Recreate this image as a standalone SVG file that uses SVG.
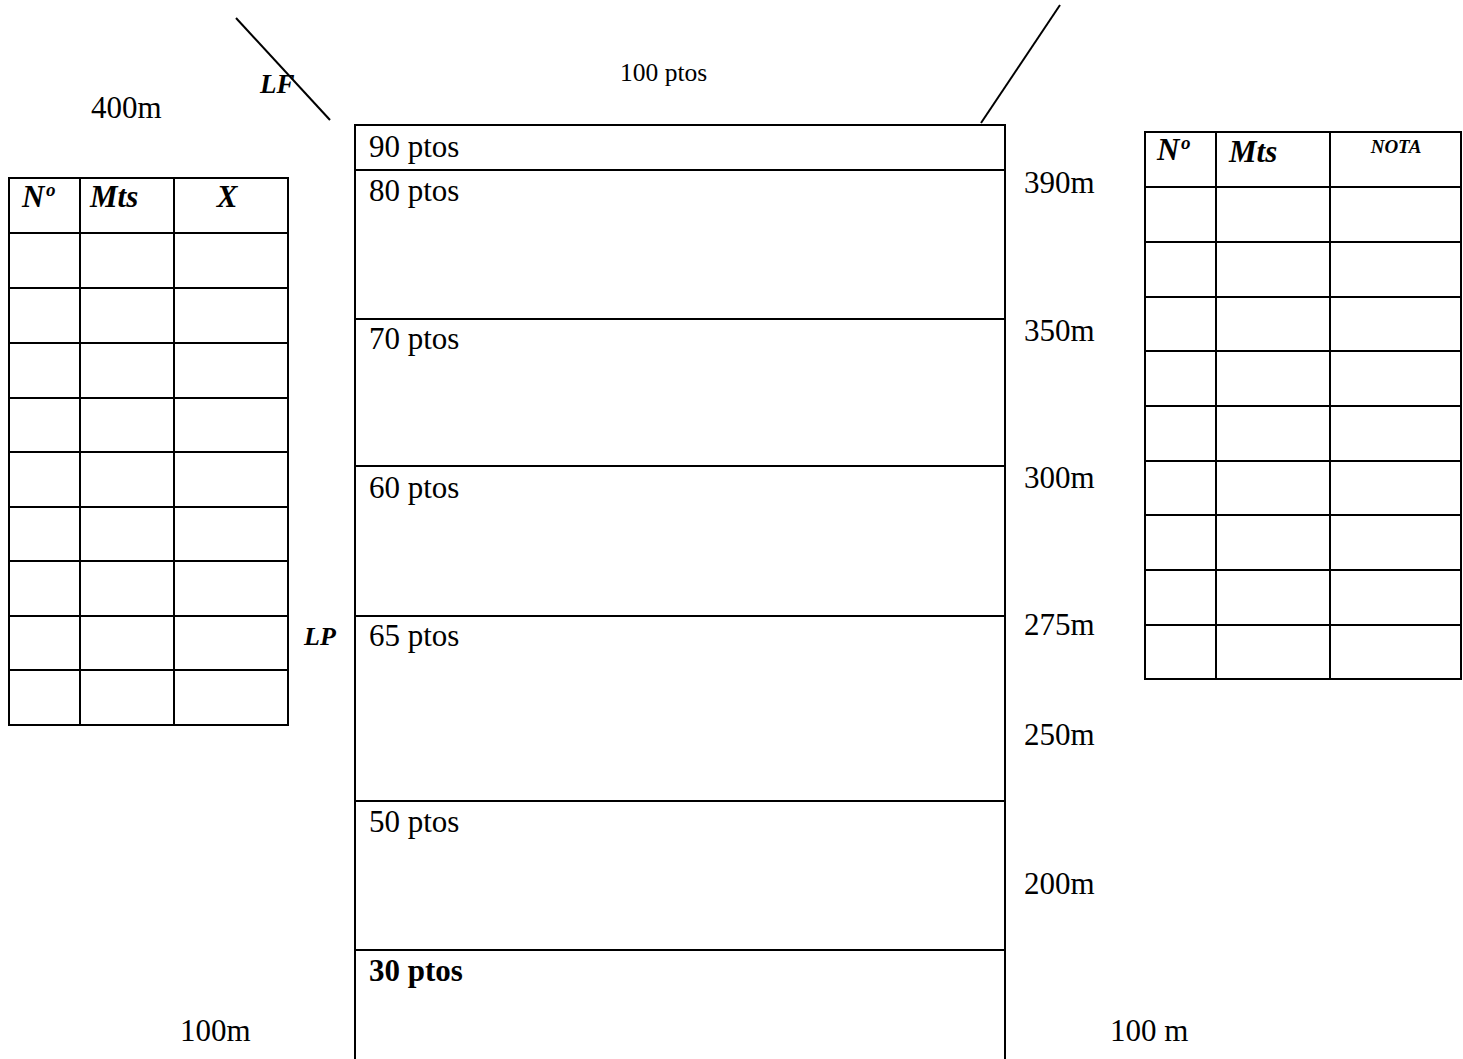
<svg xmlns="http://www.w3.org/2000/svg" width="1463" height="1059" viewBox="0 0 1463 1059">
<style>
.ln{stroke:#000;stroke-width:2;fill:none}
.t{font-family:"Liberation Serif","Times New Roman",serif;font-size:31px;fill:#000}
.bi{font-family:"Liberation Serif","Times New Roman",serif;font-weight:bold;font-style:italic;fill:#000}
</style>
<rect width="1463" height="1059" fill="#fff"/>
<g id="connectors">
<line class="ln" x1="236" y1="18" x2="330" y2="120"/>
<line class="ln" x1="1060" y1="5" x2="981" y2="123"/>
</g>
<g id="main-field">
<path class="ln" d="M355,1059 V125 H1005 V1059"/>
<line class="ln" x1="355" y1="170" x2="1005" y2="170"/>
<line class="ln" x1="355" y1="319" x2="1005" y2="319"/>
<line class="ln" x1="355" y1="466" x2="1005" y2="466"/>
<line class="ln" x1="355" y1="616" x2="1005" y2="616"/>
<line class="ln" x1="355" y1="801" x2="1005" y2="801"/>
<line class="ln" x1="355" y1="950" x2="1005" y2="950"/>
<text class="t" x="369" y="157">90 ptos</text>
<text class="t" x="369" y="201">80 ptos</text>
<text class="t" x="369" y="349">70 ptos</text>
<text class="t" x="369" y="498">60 ptos</text>
<text class="t" x="369" y="646">65 ptos</text>
<text class="t" x="369" y="832">50 ptos</text>
<text class="t" x="369" y="981" style="font-weight:bold">30 ptos</text>
</g>
<g id="labels">
<text class="t" x="91" y="118">400m</text>
<text class="t" x="620" y="81" style="font-size:25.5px">100 ptos</text>
<text class="bi" x="260" y="93" style="font-size:27px">LF</text>
<text class="bi" x="304" y="645" style="font-size:26px">LP</text>
<text class="t" x="1024" y="193">390m</text>
<text class="t" x="1024" y="341">350m</text>
<text class="t" x="1024" y="488">300m</text>
<text class="t" x="1024" y="635">275m</text>
<text class="t" x="1024" y="745">250m</text>
<text class="t" x="1024" y="894">200m</text>
<text class="t" x="180" y="1041">100m</text>
<text class="t" x="1110" y="1041">100 m</text>
</g>
<g id="left-table">
<rect class="ln" x="9" y="178" width="279" height="547"/>
<line class="ln" x1="80" y1="178" x2="80" y2="725"/>
<line class="ln" x1="174" y1="178" x2="174" y2="725"/>
<path class="ln" d="M9,233 H288 M9,288 H288 M9,343 H288 M9,398 H288 M9,452 H288 M9,507 H288 M9,561 H288 M9,616 H288 M9,670 H288"/>
<text class="bi" x="22" y="207" style="font-size:31px">Nº</text>
<text class="bi" x="90" y="207" style="font-size:31px">Mts</text>
<text class="bi" x="227" y="207" style="font-size:31px" text-anchor="middle">X</text>
</g>
<g id="right-table">
<rect class="ln" x="1145" y="132" width="316" height="547"/>
<line class="ln" x1="1216" y1="132" x2="1216" y2="679"/>
<line class="ln" x1="1330" y1="132" x2="1330" y2="679"/>
<path class="ln" d="M1145,187 H1461 M1145,242 H1461 M1145,297 H1461 M1145,351 H1461 M1145,406 H1461 M1145,461 H1461 M1145,515 H1461 M1145,570 H1461 M1145,625 H1461"/>
<text class="bi" x="1157" y="160" style="font-size:31px">Nº</text>
<text class="bi" x="1229" y="162" style="font-size:31px">Mts</text>
<text class="bi" x="1396" y="153" style="font-size:19px" text-anchor="middle">NOTA</text>
</g>
</svg>
